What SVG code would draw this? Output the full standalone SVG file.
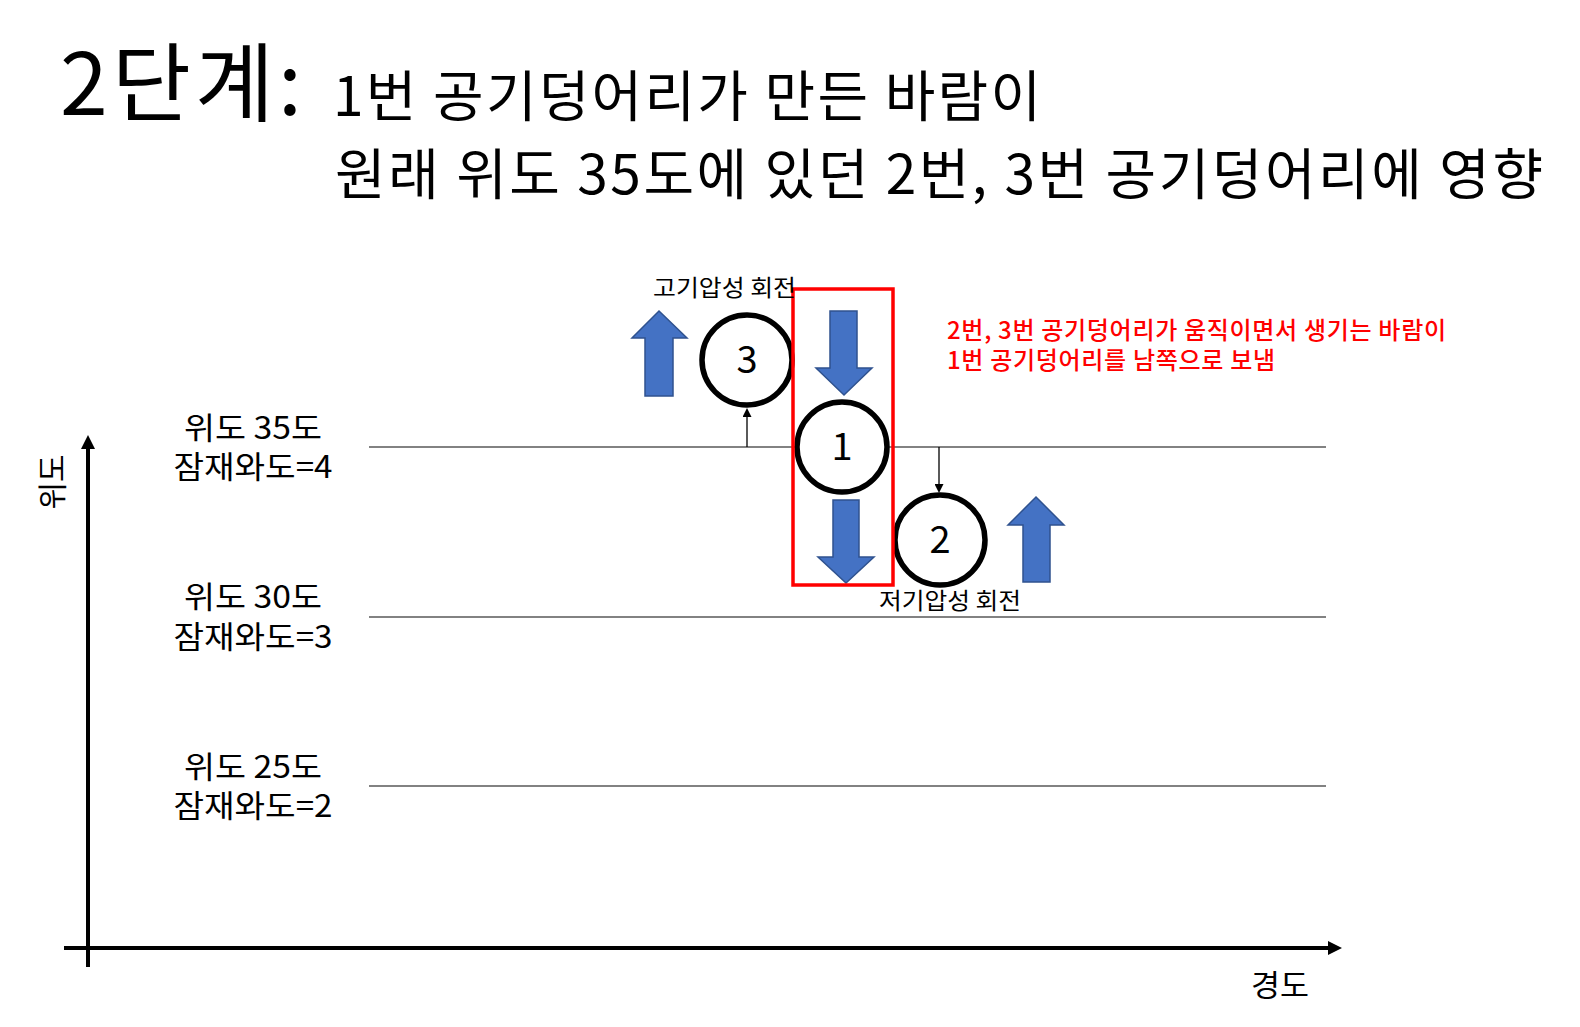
<svg xmlns="http://www.w3.org/2000/svg" width="1580" height="1027" viewBox="0 0 1580 1027">
<style>
text{font-family:"Noto Sans CJK KR","Noto Sans",sans-serif;fill:#000}
.lat{font-size:31px;text-anchor:middle}
.grid{stroke:#595959;stroke-width:1.5;fill:none}
.axis{stroke:#000;stroke-width:4;fill:none}
.conn{stroke:#000;stroke-width:1.3;fill:none}
.bubble{fill:#fff;stroke:#000;stroke-width:5.5}
.num{font-size:38px;text-anchor:middle}
.blue{fill:#4472C4;stroke:#2F528F;stroke-width:1.5}
.rot{font-size:23px}
.red{font-size:24px;fill:#FF0000;font-weight:500}
</style>
<defs>
<marker id="axHead" markerUnits="userSpaceOnUse" markerWidth="14" markerHeight="14" refX="0" refY="7" orient="auto">
<path d="M0,0 L14,7 L0,14 Z" fill="#000"/>
</marker>
<marker id="smHead" markerUnits="userSpaceOnUse" markerWidth="9" markerHeight="9" refX="0" refY="4.5" orient="auto">
<path d="M0,0 L9,4.5 L0,9 Z" fill="#000"/>
</marker>
</defs>
<rect width="1580" height="1027" fill="#fff"/>

<g id="title">
<text x="60" y="115" font-size="86" textLength="242">2단계:</text>
<text x="333" y="116" font-size="55" textLength="708">1번 공기덩어리가 만든 바람이</text>
<text x="335" y="194" font-size="55" textLength="1208">원래 위도 35도에 있던 2번, 3번 공기덩어리에 영향</text>
</g>

<g id="grid">
<line class="grid" x1="369" y1="447" x2="1326" y2="447"/>
<line class="grid" x1="369" y1="617" x2="1326" y2="617"/>
<line class="grid" x1="369" y1="786" x2="1326" y2="786"/>
</g>

<g id="axes">
<line class="axis" x1="88" y1="967" x2="88" y2="449" marker-end="url(#axHead)"/>
<line class="axis" x1="64" y1="948" x2="1328" y2="948" marker-end="url(#axHead)"/>
<text x="50" y="482" font-size="30" text-anchor="middle" dominant-baseline="central" transform="rotate(-90 50 482)">위도</text>
<text x="1251" y="996" font-size="30" textLength="58" lengthAdjust="spacingAndGlyphs">경도</text>
</g>

<g id="lat35"><text class="lat"><tspan x="253" y="439" textLength="138" lengthAdjust="spacingAndGlyphs">위도 35도</tspan><tspan x="253" y="478" textLength="159" lengthAdjust="spacingAndGlyphs">잠재와도=4</tspan></text></g>
<g id="lat30"><text class="lat"><tspan x="253" y="608" textLength="138" lengthAdjust="spacingAndGlyphs">위도 30도</tspan><tspan x="253" y="648" textLength="159" lengthAdjust="spacingAndGlyphs">잠재와도=3</tspan></text></g>
<g id="lat25"><text class="lat"><tspan x="253" y="778" textLength="138" lengthAdjust="spacingAndGlyphs">위도 25도</tspan><tspan x="253" y="817" textLength="159" lengthAdjust="spacingAndGlyphs">잠재와도=2</tspan></text></g>

<g id="wind-arrows">
<path class="blue" d="M659,311 L687,338 L673,338 L673,396 L645,396 L645,338 L632,338 Z"/>
<path class="blue" d="M830,311 L857,311 L857,368 L872,368 L844,395 L816,368 L830,368 Z"/>
<path class="blue" d="M833,500 L859,500 L859,557 L874,557 L846,583 L818,557 L833,557 Z"/>
<path class="blue" d="M1036,497 L1064,525 L1050,525 L1050,582 L1023,582 L1023,525 L1008,525 Z"/>
</g>

<g id="connectors">
<line class="conn" x1="747" y1="447" x2="747" y2="417" marker-end="url(#smHead)"/>
<line class="conn" x1="939" y1="447" x2="939" y2="484" marker-end="url(#smHead)"/>
</g>

<g id="node3"><circle class="bubble" cx="747" cy="360" r="45"/><text class="num" x="747" y="373">3</text></g>
<g id="node1"><circle class="bubble" cx="842" cy="447" r="45"/><text class="num" x="842" y="460">1</text></g>
<g id="node2"><circle class="bubble" cx="940" cy="540" r="45"/><text class="num" x="940" y="553">2</text></g>

<g id="highlight"><rect x="793" y="289" width="100" height="296" fill="none" stroke="#FF0000" stroke-width="3.5"/></g>

<g id="labels">
<text class="rot" x="653" y="296" textLength="143" lengthAdjust="spacingAndGlyphs">고기압성 회전</text>
<text class="rot" x="879" y="609" textLength="142" lengthAdjust="spacingAndGlyphs">저기압성 회전</text>
<text class="red"><tspan x="947" y="339" textLength="499">2번, 3번 공기덩어리가 움직이면서 생기는 바람이</tspan><tspan x="947" y="369" textLength="328">1번 공기덩어리를 남쪽으로 보냄</tspan></text>
</g>
</svg>
